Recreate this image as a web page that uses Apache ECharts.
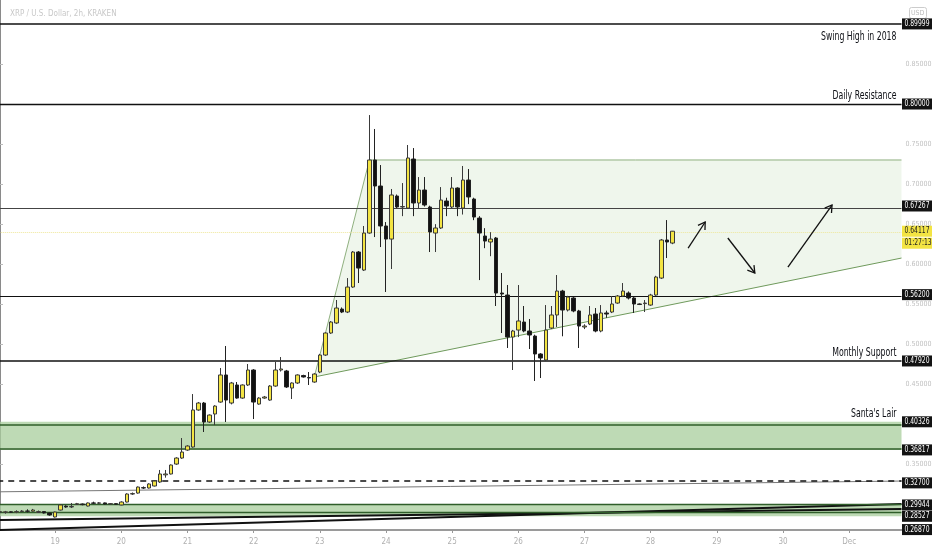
<!DOCTYPE html>
<html><head><meta charset="utf-8">
<script src="https://cdn.jsdelivr.net/npm/echarts@6/dist/echarts.min.js"></script>
<style>html,body{margin:0;padding:0;background:#fff;overflow:hidden}#c{width:932px;height:550px}</style>
</head><body><div id="c"></div>
<script>
const titleText = 'XRP / U.S. Dollar, 2h, KRAKEN';
const currency = 'USD';
const dayTicks = ['19','20','21','22','23','24','25','26','27','28','29','30','Dec'];
const firstTickIndex = 10, barsPerDay = 12, slotCount = 164;
// [open, close, low, high] per 2h bar
const candles = [
[0.2906,0.2910,0.2890,0.2925],[0.2902,0.2908,0.2885,0.2920],[0.2908,0.2904,0.2895,0.2915],[0.2904,0.2912,0.2892,0.2928],
[0.2912,0.2918,0.2905,0.2930],[0.2918,0.2916,0.2900,0.2940],[0.2916,0.2931,0.2910,0.2945],[0.2900,0.2912,0.2895,0.2925],
[0.2912,0.2894,0.2888,0.2918],[0.2894,0.2869,0.2860,0.2898],[0.2844,0.2906,0.2838,0.2912],[0.2931,0.2994,0.2925,0.3000],
[0.2980,0.2969,0.2960,0.2990],[0.2969,0.2975,0.2956,0.3019],[0.3000,0.3010,0.2995,0.3020],[0.3006,0.2998,0.2990,0.3012],
[0.2981,0.3019,0.2975,0.3025],[0.3019,0.3016,0.3005,0.3035],[0.3016,0.3020,0.3005,0.3030],[0.3020,0.3006,0.3000,0.3025],
[0.3006,0.3010,0.3000,0.3018],[0.3010,0.3004,0.2998,0.3015],[0.2994,0.3031,0.2990,0.3040],[0.3031,0.3131,0.3025,0.3140],
[0.3131,0.3136,0.3120,0.3150],[0.3143,0.3218,0.3135,0.3225],[0.3210,0.3206,0.3195,0.3225],[0.3206,0.3256,0.3200,0.3265],
[0.3231,0.3293,0.3225,0.3300],[0.3281,0.3381,0.3270,0.3431],[0.3370,0.3381,0.3335,0.3431],[0.3381,0.3493,0.3375,0.3500],
[0.3505,0.3580,0.3495,0.3590],[0.3580,0.3655,0.3570,0.3830],[0.3680,0.3730,0.3670,0.3740],[0.3718,0.4180,0.3710,0.4379],
[0.4180,0.4267,0.4170,0.4280],[0.4267,0.4030,0.3905,0.4280],[0.4030,0.4117,0.4020,0.4125],[0.4130,0.4229,0.3992,0.4240],
[0.4279,0.4617,0.4270,0.4704],[0.4617,0.4304,0.4030,0.4979],[0.4267,0.4517,0.4250,0.4530],[0.4492,0.4329,0.4320,0.4529],
[0.4329,0.4492,0.4320,0.4500],[0.4492,0.4679,0.4480,0.4754],[0.4679,0.4279,0.4067,0.4690],[0.4254,0.4329,0.4245,0.4340],
[0.4329,0.4342,0.4320,0.4355],[0.4304,0.4479,0.4295,0.4490],[0.4479,0.4679,0.4470,0.4779],[0.4679,0.4692,0.4660,0.4841],
[0.4667,0.4467,0.4455,0.4680],[0.4454,0.4517,0.4317,0.4525],[0.4517,0.4617,0.4505,0.4625],[0.4610,0.4592,0.4585,0.4620],
[0.4585,0.4580,0.4492,0.4654],[0.4529,0.4629,0.4520,0.4640],[0.4654,0.4866,0.4640,0.4880],[0.4866,0.5141,0.4855,0.5150],
[0.5141,0.5278,0.5130,0.5290],[0.5266,0.5453,0.5255,0.5553],[0.5440,0.5403,0.5390,0.5460],[0.5403,0.5715,0.5390,0.5827],
[0.5715,0.6152,0.5705,0.6165],[0.6152,0.5952,0.5765,0.6165],[0.5927,0.6389,0.5915,0.6477],[0.6389,0.7301,0.6380,0.7862],
[0.7301,0.6976,0.6339,0.7688],[0.6976,0.6477,0.6214,0.7238],[0.6477,0.6314,0.5653,0.6526],[0.6314,0.6864,0.5940,0.6939],
[0.6851,0.6714,0.6700,0.6870],[0.6714,0.6720,0.6600,0.7013],[0.6701,0.7326,0.6690,0.7488],[0.7313,0.6764,0.6600,0.7450],
[0.6764,0.6926,0.6700,0.7088],[0.6926,0.6739,0.6720,0.7088],[0.6714,0.6402,0.6152,0.6730],[0.6389,0.6452,0.6152,0.6500],
[0.6452,0.6801,0.6440,0.6963],[0.6789,0.6726,0.6600,0.6830],[0.6714,0.6951,0.6700,0.7088],[0.6951,0.6714,0.6600,0.6960],
[0.6701,0.7051,0.6620,0.7226],[0.7051,0.6839,0.6750,0.7188],[0.6814,0.6589,0.6550,0.6830],[0.6576,0.6389,0.5802,0.6600],
[0.6352,0.6289,0.6200,0.6450],[0.6277,0.6314,0.6100,0.6400],[0.6327,0.5640,0.5478,0.6340],[0.5640,0.5628,0.5141,0.5890],
[0.5615,0.5091,0.4954,0.5740],[0.5091,0.5166,0.4679,0.5180],[0.5178,0.5291,0.5090,0.5740],[0.5278,0.5166,0.5150,0.5478],
[0.5166,0.5116,0.4941,0.5316],[0.5103,0.4879,0.4542,0.5120],[0.4879,0.4829,0.4579,0.4890],[0.4804,0.5178,0.4790,0.5490],
[0.5203,0.5366,0.5190,0.5478],[0.5366,0.5665,0.5216,0.5865],[0.5665,0.5428,0.5100,0.5680],[0.5428,0.5590,0.5410,0.5605],
[0.5578,0.5416,0.5400,0.5590],[0.5416,0.5228,0.4954,0.5430],[0.5216,0.5228,0.5190,0.5250],[0.5253,0.5366,0.5240,0.5478],
[0.5378,0.5166,0.5150,0.5453],[0.5166,0.5391,0.5150,0.5490],[0.5391,0.5378,0.5330,0.5420],[0.5403,0.5503,0.5390,0.5603],
[0.5515,0.5603,0.5505,0.5615],[0.5603,0.5665,0.5590,0.5765],[0.5640,0.5578,0.5560,0.5660],[0.5578,0.5503,0.5391,0.5590],
[0.5503,0.5498,0.5490,0.5510],[0.5508,0.5515,0.5403,0.5553],[0.5490,0.5615,0.5480,0.5630],[0.5615,0.5840,0.5605,0.5855],
[0.5827,0.6302,0.5815,0.6315],[0.6302,0.6277,0.6077,0.6551],[0.6264,0.6412,0.6250,0.6415]
];
const levelValues = [0.89999,0.80000,0.67267,0.56200,0.47920,0.40326,0.36817,0.32700,0.29944,0.28527,0.26870];
const levelTags = ['0.89999','0.80000','0.67267','0.56200','0.47920','0.40326','0.36817','0.32700','0.29944','0.28527','0.26870'];
const noteTexts = ['Swing High in 2018','Daily Resistance','Monthly Support',"Santa's Lair"];
const noteLevels = [0.89999,0.80000,0.47920,0.40326];
const noteBelow = [true,false,false,false];
const santaZone = [0.36817,0.40326];
const lowerZone = [0.28527,0.29944];
const dashedLevel = 0.32700;
const lastPrice = 0.64117, lastPriceTag = '0.64117', countdown = '01:27:13';
const axisTickValues = [0.35,0.45,0.50,0.55,0.60,0.65,0.70,0.75,0.85];
// triangle pattern (bar index, price)
const triangleXs = [57, 67, 163.5, 163.5];
const triangleYs = [0.4592, 0.7301, 0.7301, 0.6077];
// projection arrows: [fromIndex, fromPrice, toIndex, toPrice]
const arrows = [[124.8,0.6202,127.9,0.6527],[132.0,0.6327,136.9,0.5890],[142.9,0.5965,150.9,0.6739]];
// long trend lines near the bottom: [fromIndex, fromPrice, toIndex, toPrice, width, colour]
const trendLines = [[-0.5,0.3158,163.5,0.3293,1,'#777'],[-0.5,0.2805,163.5,0.2944,2,'#111'],[-0.5,0.2681,163.5,0.3006,2,'#111']];

const FONT_N = "'Liberation Sans Narrow','DejaVu Sans Condensed','Liberation Sans',sans-serif";
const yMax = 0.92984, yMin = 0.26817;
const cats = []; for (let i = 0; i < slotCount; i++) cats.push(i);

const mc = document.createElement('canvas').getContext('2d');
mc.font = "500 13px " + FONT_N;
const noteScale = Math.min(1, 64 / mc.measureText('Daily Resistance').width);
mc.font = "8px " + FONT_N;
const tagScale = Math.min(1, 25 / mc.measureText('0.89999').width);

const chart = echarts.init(document.getElementById('c'));
const seg = (x1,y1,x2,y2,stroke,w,dash) => ({type:'line',shape:{x1,y1,x2,y2},style:{stroke,lineWidth:w,lineDash:dash||null}});

const option = {
  animation:false,
  backgroundColor:'#ffffff',
  grid:{left:-2.76,right:30.5,top:0,bottom:20,containLabel:false,outerBoundsMode:'none'},
  title:{text:titleText,left:5,top:5,textStyle:{color:'#c8c8c8',fontSize:8,fontWeight:'normal',fontFamily:FONT_N}},
  graphic:[
    {type:'rect',left:909,top:7,shape:{width:17,height:11,r:2},style:{fill:'#fff',stroke:'#ccc',lineWidth:1}},
    {type:'text',left:911,top:10,style:{text:currency,fill:'#bbb',font:"7px "+FONT_N}}
  ],
  xAxis:[
    {type:'category',data:cats,boundaryGap:true,
     axisLine:{lineStyle:{color:'#9a9a9a',width:2}},
     axisTick:{show:true,alignWithLabel:true,length:3,lineStyle:{color:'#999'},
       interval:(i)=> i>=firstTickIndex && (i-firstTickIndex)%barsPerDay===0},
     axisLabel:{color:'#b0b0b0',fontSize:8,fontFamily:FONT_N,margin:8,
       interval:(i)=> i>=firstTickIndex && (i-firstTickIndex)%barsPerDay===0,
       formatter:(v,i)=> dayTicks[(i-firstTickIndex)/barsPerDay] || ''},
     splitLine:{show:false}},
    {type:'value',min:-0.5,max:slotCount-0.5,show:false}
  ],
  yAxis:{type:'value',position:'right',min:yMin,max:yMax,scale:true,
    axisLine:{show:true,lineStyle:{color:'#8a8a8a',width:1}},
    axisTick:{show:true,length:3,lineStyle:{color:'#bbb'},customValues:axisTickValues},
    axisLabel:{color:'#c0c0c0',fontSize:7,fontFamily:FONT_N,margin:4,customValues:axisTickValues,
      formatter:(v)=>v.toFixed(5)},
    splitLine:{show:false}},
  series:[
    { // triangle area
      type:'custom',xAxisIndex:1,yAxisIndex:0,silent:true,z:1,
      data:[[triangleXs[0],triangleYs[0]]],
      renderItem:(p,api)=>{
        const pts = triangleXs.map((x,k)=>api.coord([x,triangleYs[k]]));
        return {type:'group',children:[
          {type:'polygon',shape:{points:pts},style:{fill:'rgba(214,232,204,0.38)',stroke:null}},
          seg(pts[0][0],pts[0][1],pts[1][0],pts[1][1],'#8fb07f',1),
          seg(pts[1][0],pts[1][1],pts[2][0],pts[2][1],'#8fb07f',1),
          seg(pts[0][0],pts[0][1],pts[3][0],pts[3][1],'#6f9a5c',1)
        ]};
      }
    },
    { // zones + levels
      type:'line',xAxisIndex:1,yAxisIndex:0,data:[],silent:true,z:2,
      markArea:{silent:true,itemStyle:{color:'rgba(168,206,156,0.75)'},
        data:[[{yAxis:santaZone[0]},{yAxis:santaZone[1]}],[{yAxis:lowerZone[0]},{yAxis:lowerZone[1]}]]},
      markLine:{silent:true,symbol:'none',animation:false,
        label:{show:false},
        data:[
          {yAxis:levelValues[0],lineStyle:{color:'#111',width:1.6,type:'solid'}},
          {yAxis:levelValues[1],lineStyle:{color:'#111',width:1.3,type:'solid'}},
          {yAxis:levelValues[2],lineStyle:{color:'#444',width:1.1,type:'solid'}},
          {yAxis:levelValues[3],lineStyle:{color:'#111',width:1.2,type:'solid'}},
          {yAxis:levelValues[4],lineStyle:{color:'#111',width:1.6,type:'solid'}},
          {yAxis:santaZone[1],lineStyle:{color:'#2f5e2a',width:1.5,type:'solid'}},
          {yAxis:santaZone[0],lineStyle:{color:'#2f5e2a',width:1.5,type:'solid'}},
          {yAxis:dashedLevel,lineStyle:{color:'#111',width:1.6,type:[6,5]}},
          {yAxis:lowerZone[1],lineStyle:{color:'#2f5e2a',width:1.3,type:'solid'}},
          {yAxis:lowerZone[0],lineStyle:{color:'#2f5e2a',width:1.3,type:'solid'}},
          {yAxis:lastPrice,lineStyle:{color:'#efe79a',width:1,type:'dotted'}}
        ]
      }
    },
    { // trend lines near bottom
      type:'custom',xAxisIndex:1,yAxisIndex:0,silent:true,z:3,
      data:trendLines.map(t=>[t[0],t[1]]),
      renderItem:(p,api)=>{
        const t = trendLines[p.dataIndex];
        const a = api.coord([t[0],t[1]]), b = api.coord([t[2],t[3]]);
        return seg(a[0],a[1],b[0],b[1],t[5],t[4]);
      }
    },
    {
      type:'candlestick',xAxisIndex:0,yAxisIndex:0,z:5,barWidth:4,
      data:candles,
      itemStyle:{color:'#f3e443',color0:'#111111',borderColor:'#3a3a3a',borderColor0:'#222',borderWidth:1}
    },
    { // arrows
      type:'custom',xAxisIndex:1,yAxisIndex:0,silent:true,z:6,
      data:arrows.map(a=>[a[2],a[3]]),
      renderItem:(p,api)=>{
        const a = arrows[p.dataIndex];
        const p0 = api.coord([a[0],a[1]]), p1 = api.coord([a[2],a[3]]);
        const ang = Math.atan2(p1[1]-p0[1], p1[0]-p0[0]);
        const L = 8, s = 0.55;
        const h1 = [p1[0]-L*Math.cos(ang-s), p1[1]-L*Math.sin(ang-s)];
        const h2 = [p1[0]-L*Math.cos(ang+s), p1[1]-L*Math.sin(ang+s)];
        return {type:'group',children:[
          seg(p0[0],p0[1],p1[0],p1[1],'#111',1.3),
          {type:'polyline',shape:{points:[h1,p1,h2]},style:{stroke:'#111',lineWidth:1.3,fill:null}}
        ]};
      }
    },
    { // level notes
      type:'custom',xAxisIndex:1,yAxisIndex:0,silent:true,z:7,clip:false,
      data:noteLevels.map(v=>[slotCount-0.5,v]),
      renderItem:(p,api)=>{
        const i = p.dataIndex;
        const pt = api.coord([slotCount-0.5,noteLevels[i]]);
        return {type:'text',x:pt[0]-5,y:noteBelow[i]?pt[1]+13:pt[1]-8,scaleX:noteScale,
          style:{text:noteTexts[i],fill:'#0c0e14',font:"500 13px "+FONT_N,align:'right',verticalAlign:'middle'}};
      }
    },
    { // right-side price tags
      type:'custom',xAxisIndex:1,yAxisIndex:0,silent:true,z:10,clip:false,
      data:levelValues.map(v=>[slotCount-0.5,v]).concat([[slotCount-0.5,lastPrice]]),
      renderItem:(p,api)=>{
        const i = p.dataIndex;
        const isLast = i === levelValues.length;
        const v = isLast ? lastPrice : levelValues[i];
        const y = api.coord([slotCount-0.5,v])[1];
        const x = 902;
        const box = (yy, txt, bg, fg) => [
          {type:'rect',shape:{x:x,y:yy-5.5,width:30,height:11},style:{fill:bg}},
          {type:'text',x:x+2.5,y:yy,scaleX:tagScale,style:{text:txt,fill:fg,font:"8px "+FONT_N,verticalAlign:'middle',align:'left'}}
        ];
        let ch = isLast ? box(y,lastPriceTag,'#f3e443','#222').concat(box(y+12,countdown,'#f3e443','#222'))
                        : box(y,levelTags[i],'#131313','#ffffff');
        return {type:'group',children:ch};
      }
    }
  ]
};
chart.setOption(option);
</script></body></html>
